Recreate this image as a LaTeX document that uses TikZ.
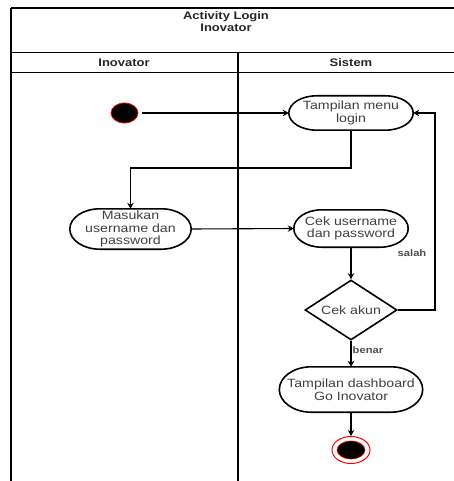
\documentclass[tikz,border=0pt]{standalone}
\usepackage{fontspec}
\setmainfont{Liberation Sans}[FakeStretch=1.18]
\usetikzlibrary{arrows.meta,shapes.geometric,calc}
\definecolor{endred}{RGB}{255,0,0}
\tikzset{
  lane/.style={line width=1.3pt},
  action/.style={rectangle, align=center, inner sep=1pt,
    font=\fontsize{12}{12.5}\selectfont, text=black!75},
  outline/.style={line width=1.6pt},
  decision/.style={draw, line width=1.6pt, diamond, aspect=1.5, inner sep=0pt,
    font=\fontsize{12}{12.5}\selectfont, text=black!75},
  flow/.style={line width=1.1pt, -{Stealth[length=6pt,width=6.5pt]}},
  guard/.style={font=\fontsize{9.5}{10}\selectfont\bfseries, text=black!70},
  head/.style={font=\fontsize{11}{12.5}\selectfont\bfseries, text=black!85, align=center},
}
% border of an action node: flat top and bottom, elliptical ends of horizontal radius #2
\newcommand\actionborder[2]{%
  \draw[outline] let \p1=(#1.north west), \p2=(#1.south east), \n1={(\y1-\y2)/2} in
    (\x1+#2,\y1) -- (\x2-#2,\y1)
    arc[start angle=90, end angle=-90, x radius=#2, y radius=\n1]
    -- (\x1+#2,\y2)
    arc[start angle=270, end angle=90, x radius=#2, y radius=\n1] -- cycle;}
\begin{document}
\begin{tikzpicture}[x=1pt,y=-1pt]
\useasboundingbox (0,0) rectangle (454,481);
\clip (0,0) rectangle (454,481);

% swimlane frame
\draw[lane] (11,8) -- (460,8);
\draw[lane] (11,8) -- (11,490);
\draw[lane] (11,52.5) -- (460,52.5);
\draw[lane] (11,72.5) -- (460,72.5);
\draw[lane] (238,52.5) -- (238,490);
\node[head] (title) at (226,21.5) {Activity Login\\Inovator};
\node[head] (laneA) at (124,62.5) {Inovator};
\node[head] (laneB) at (351,62.5) {Sistem};

% start and end
\node[draw=endred, fill=black, line width=0.8pt, ellipse, minimum width=27pt, minimum height=20pt, inner sep=0pt] (start) at (124.5,113) {};
\node[draw=endred, fill=white, line width=1pt, ellipse, minimum width=38pt, minimum height=27pt, inner sep=0pt] (stop) at (351,450) {};
\node[draw=endred, fill=black, line width=0.6pt, ellipse, minimum width=28pt, minimum height=18pt, inner sep=0pt] (stopdot) at (351,450) {};

% actions
\node[action, minimum width=124pt, minimum height=34pt] (menu) at (351,113) {Tampilan menu\\login};
\node[action, minimum width=121pt, minimum height=40pt] (masukan) at (130.5,229) {Masukan\\username dan\\password};
\node[action, minimum width=114pt, minimum height=37pt] (cek) at (351,228.5) {Cek username\\dan password};
\node[decision, minimum width=92pt, minimum height=60pt] (akun) at (351,310) {Cek akun};
\node[action, minimum width=143pt, minimum height=45pt] (dash) at (351,389.5) {Tampilan dashboard\\Go Inovator};
\actionborder{menu}{28pt}
\actionborder{masukan}{30pt}
\actionborder{cek}{28pt}
\actionborder{dash}{32pt}

% routing points
\coordinate (bend) at (0,168);
\coordinate (loopx) at (435,0);

% flows
\draw[flow] (start.east) ++(4,0) -- (menu.west);
\draw[flow] (menu.south) -- (menu.south |- bend) -| (masukan.north);
\draw[flow] (masukan.east) -- (cek.west);
\draw[flow] (cek.south) -- (akun.north);
\draw[flow] (akun.east) -- (akun.east -| loopx) -- (loopx |- menu.east) -- (menu.east);
\draw[flow] (akun.south) -- (dash.north);
\draw[flow] (dash.south) -- (stop.north);

% guards
\node[guard] (salah) at (412,253) {salah};
\node[guard] (benar) at (368,350) {benar};
\end{tikzpicture}
\end{document}
